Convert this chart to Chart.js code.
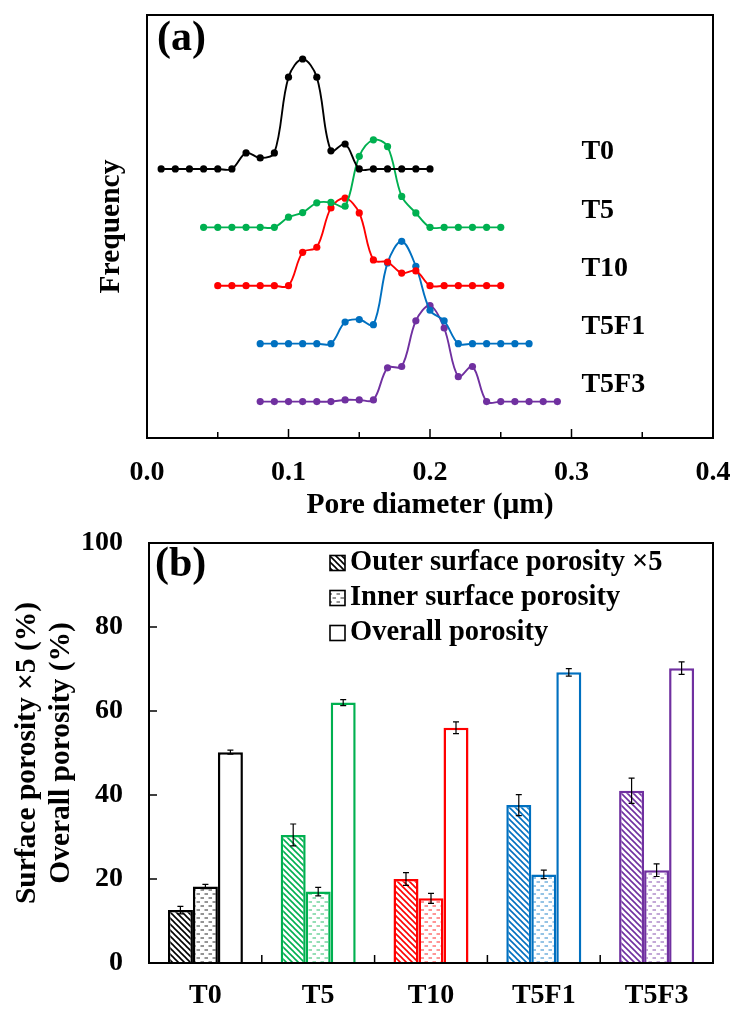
<!DOCTYPE html>
<html lang="en">
<head>
<meta charset="UTF-8">
<title>Pore size distribution and porosity</title>
<script src="https://cdn.jsdelivr.net/npm/chart.js"></script>
<style>
  body { margin: 0; background: #fff; }
  canvas { display: block; }
</style>
</head>
<body>
<canvas id="poreChart" width="734" height="520"></canvas>
<canvas id="porosityChart" width="734" height="490"></canvas>
<script>
// ---- (a) pore size distribution, each curve lifted onto its own baseline ----
const samples = ['T0', 'T5', 'T10', 'T5F1', 'T5F3'];
const sampleColors = ['#000000', '#00B050', '#FF0000', '#0070C0', '#7030A0'];

const diaT0 = [0.01, 0.02, 0.03, 0.04, 0.05, 0.06, 0.07, 0.08, 0.09, 0.10, 0.11, 0.12, 0.13, 0.14, 0.15, 0.16, 0.17, 0.18, 0.19, 0.20];
const freqT0 = [0, 0, 0, 0, 0, 0, 3.8, 2.6, 3.8, 21.7, 26.0, 21.7, 4.3, 5.9, 0, 0, 0, 0, 0, 0];

const diaT5 = [0.04, 0.05, 0.06, 0.07, 0.08, 0.09, 0.10, 0.11, 0.12, 0.13, 0.14, 0.15, 0.16, 0.17, 0.18, 0.19, 0.20, 0.21, 0.22, 0.23, 0.24, 0.25];
const freqT5 = [0, 0, 0, 0, 0, 0, 2.4, 3.5, 5.8, 5.9, 5.0, 16.8, 20.7, 19.1, 7.3, 3.4, 0, 0, 0, 0, 0, 0];

const diaT10 = [0.05, 0.06, 0.07, 0.08, 0.09, 0.10, 0.11, 0.12, 0.13, 0.14, 0.15, 0.16, 0.17, 0.18, 0.19, 0.20, 0.21, 0.22, 0.23, 0.24, 0.25];
const freqT10 = [0, 0, 0, 0, 0, 0, 7.9, 9.1, 18.4, 20.7, 17.2, 6.1, 5.6, 3.0, 3.5, 0, 0, 0, 0, 0, 0];

const diaT5F1 = [0.08, 0.09, 0.10, 0.11, 0.12, 0.13, 0.14, 0.15, 0.16, 0.17, 0.18, 0.19, 0.20, 0.21, 0.22, 0.23, 0.24, 0.25, 0.26, 0.27];
const freqT5F1 = [0, 0, 0, 0, 0, 0, 5.1, 5.7, 4.5, 19.1, 24.2, 18.3, 7.9, 5.4, 0, 0, 0, 0, 0, 0];

const diaT5F3 = [0.08, 0.09, 0.10, 0.11, 0.12, 0.13, 0.14, 0.15, 0.16, 0.17, 0.18, 0.19, 0.20, 0.21, 0.22, 0.23, 0.24, 0.25, 0.26, 0.27, 0.28, 0.29];
const freqT5F3 = [0, 0, 0, 0, 0, 0, 0.4, 0.4, 0.4, 8.0, 8.3, 19.1, 22.7, 17.4, 5.9, 8.3, 0, 0, 0, 0, 0, 0];

const baselines = [63.6, 49.8, 36.0, 22.3, 8.6];
const diaTicks = [0.0, 0.05, 0.1, 0.15, 0.2, 0.25, 0.3, 0.35, 0.4];

// ---- (b) porosity by sample ----
const outerPorosity = [12.6, 30.5, 20.0, 37.6, 41.0];   // already multiplied by 5
const outerErr = [0.9, 2.6, 1.5, 2.5, 3.0];
const innerPorosity = [18.2, 17.0, 15.4, 21.1, 22.1];
const innerErr = [0.5, 1.0, 1.2, 1.0, 1.5];
const overallPorosity = [50.2, 62.0, 56.0, 69.2, 70.2];
const overallErr = [0.5, 0.7, 1.4, 0.9, 1.5];

const serif = "'Liberation Serif', 'Times New Roman', serif";
Chart.defaults.font.family = serif;
Chart.defaults.font.size = 28;
Chart.defaults.font.weight = 'bold';
Chart.defaults.color = '#000';

// box round the plot area
const frame = {
  id: 'frame',
  afterDraw(chart) {
    const { ctx, chartArea: a } = chart;
    ctx.save();
    ctx.strokeStyle = '#000';
    ctx.lineWidth = 2;
    ctx.strokeRect(a.left, a.top, a.right - a.left, a.bottom - a.top);
    ctx.restore();
  }
};

// "(a)" / "(b)"
const panelTag = {
  id: 'panelTag',
  afterDraw(chart, args, opts) {
    const { ctx } = chart;
    ctx.save();
    ctx.font = 'bold 42px ' + serif;
    ctx.fillStyle = '#000';
    ctx.textAlign = 'left';
    ctx.textBaseline = 'middle';
    ctx.fillText(opts.text, opts.x, opts.y);
    ctx.restore();
  }
};

// tick marks pointing into the plot
const diaTickMarks = {
  id: 'diaTickMarks',
  afterDraw(chart) {
    const { ctx, chartArea: a, scales: { x } } = chart;
    ctx.save();
    ctx.strokeStyle = '#000';
    ctx.lineWidth = 1.5;
    x.ticks.forEach((t, i) => {
      const px = x.getPixelForTick(i);
      const len = t.label ? 9 : 6;
      ctx.beginPath();
      ctx.moveTo(px, a.bottom);
      ctx.lineTo(px, a.bottom - len);
      ctx.stroke();
    });
    ctx.restore();
  }
};

// sample names at the right end of each curve
const curveNames = {
  id: 'curveNames',
  afterDraw(chart, args, opts) {
    const { ctx, scales: { x, y } } = chart;
    ctx.save();
    ctx.font = 'bold 28px ' + serif;
    ctx.fillStyle = '#000';
    ctx.textAlign = 'left';
    ctx.textBaseline = 'middle';
    chart.data.datasets.forEach((ds, i) => {
      ctx.fillText(ds.label, x.getPixelForValue(opts.at), y.getPixelForValue(baselines[i] + opts.lift));
    });
    ctx.restore();
  }
};

const curves = [
  [diaT0, freqT0], [diaT5, freqT5], [diaT10, freqT10], [diaT5F1, freqT5F1], [diaT5F3, freqT5F3]
];

new Chart(document.getElementById('poreChart'), {
  type: 'line',
  data: {
    datasets: curves.map(([dia, freq], i) => ({
      label: samples[i],
      data: dia.map((d, k) => ({ x: d, y: freq[k] + baselines[i] })),
      borderColor: sampleColors[i],
      backgroundColor: sampleColors[i],
      pointBackgroundColor: sampleColors[i],
      borderWidth: 1.9,
      pointRadius: 3.6,
      pointBorderWidth: 0,
      tension: 0.35,
      fill: false
    }))
  },
  options: {
    responsive: false,
    animation: false,
    layout: { padding: { top: 15, right: 21, left: 0, bottom: 0 } },
    plugins: {
      legend: { display: false },
      tooltip: { enabled: false },
      panelTag: { text: '(a)', x: 157, y: 39 },
      curveNames: { at: 0.307, lift: 4 }
    },
    scales: {
      x: {
        type: 'linear',
        min: 0,
        max: 0.4,
        afterBuildTicks: (scale) => { scale.ticks = diaTicks.map(v => ({ value: v })); },
        // fixed height, and let the "0.4" label hang past the plot edge
        afterFit: (scale) => { scale.height = 82; scale.paddingRight = 0; scale.paddingLeft = 0; },
        grid: { display: false },
        border: { color: '#000', width: 2 },
        ticks: {
          autoSkip: false,
          maxRotation: 0,
          padding: 10,
          callback: (v) => (Math.round(v * 100) % 10 === 0 ? v.toFixed(1) : '')
        },
        title: {
          display: true,
          text: 'Pore diameter (μm)',
          font: { size: 29.5, weight: 'bold', lineHeight: 1.0 },
          padding: { top: 0, bottom: 0 }
        }
      },
      y: {
        min: 0,
        max: 100,
        afterFit: (scale) => { scale.width = 147; scale.paddingTop = 0; scale.paddingBottom = 0; },
        grid: { display: false },
        border: { color: '#000', width: 2 },
        ticks: { display: false },
        title: {
          display: true,
          text: 'Frequency',
          font: { size: 29.5, weight: 'bold' },
          padding: { top: 94, bottom: 0 }
        }
      }
    }
  },
  plugins: [frame, panelTag, diaTickMarks, curveNames]
});

// ---- (b) bars ----
const barCanvas = document.getElementById('porosityChart');
const barCtx = barCanvas.getContext('2d');

function hatch(color) {
  const s = 6;
  const c = document.createElement('canvas');
  c.width = s; c.height = s;
  const g = c.getContext('2d');
  g.fillStyle = '#fff';
  g.fillRect(0, 0, s, s);
  g.strokeStyle = color;
  g.lineWidth = 1.6;
  for (const k of [-s, 0, s]) {
    g.beginPath();
    g.moveTo(k - 1, -1);
    g.lineTo(k + s + 1, s + 1);
    g.stroke();
  }
  return barCtx.createPattern(c, 'repeat');
}

function dashes(color) {
  const w = 8, h = 8;
  const c = document.createElement('canvas');
  c.width = w; c.height = h;
  const g = c.getContext('2d');
  g.fillStyle = '#fff';
  g.fillRect(0, 0, w, h);
  g.strokeStyle = color;
  g.globalAlpha = 0.7;
  g.lineWidth = 1.2;
  g.beginPath(); g.moveTo(0.5, 2); g.lineTo(4, 2); g.stroke();
  g.beginPath(); g.moveTo(4.5, 6); g.lineTo(8, 6); g.stroke();
  return barCtx.createPattern(c, 'repeat');
}

const errorBars = {
  id: 'errorBars',
  afterDatasetsDraw(chart) {
    const { ctx, scales: { y } } = chart;
    ctx.save();
    ctx.strokeStyle = '#000';
    ctx.lineWidth = 1.2;
    chart.data.datasets.forEach((ds, i) => {
      chart.getDatasetMeta(i).data.forEach((bar, j) => {
        const v = ds.data[j], e = ds.errors[j];
        const top = y.getPixelForValue(v + e), bot = y.getPixelForValue(v - e);
        ctx.beginPath();
        ctx.moveTo(bar.x, top); ctx.lineTo(bar.x, bot);
        ctx.moveTo(bar.x - 3, top); ctx.lineTo(bar.x + 3, top);
        ctx.moveTo(bar.x - 3, bot); ctx.lineTo(bar.x + 3, bot);
        ctx.stroke();
      });
    });
    ctx.restore();
  }
};

const barTickMarks = {
  id: 'barTickMarks',
  afterDraw(chart) {
    const { ctx, chartArea: a, scales: { x, y } } = chart;
    ctx.save();
    ctx.strokeStyle = '#000';
    ctx.lineWidth = 1.5;
    y.ticks.forEach((t, i) => {
      const py = y.getPixelForTick(i);
      ctx.beginPath(); ctx.moveTo(a.left, py); ctx.lineTo(a.left + 8, py); ctx.stroke();
    });
    for (let i = 0; i < x.ticks.length - 1; i++) {
      const px = (x.getPixelForTick(i) + x.getPixelForTick(i + 1)) / 2;
      ctx.beginPath(); ctx.moveTo(px, a.bottom); ctx.lineTo(px, a.bottom - 8); ctx.stroke();
    }
    ctx.restore();
  }
};

const keyBox = {
  id: 'keyBox',
  afterDraw(chart, args, opts) {
    const { ctx } = chart;
    ctx.save();
    ctx.font = 'bold 28.5px ' + serif;
    ctx.textAlign = 'left';
    ctx.textBaseline = 'middle';
    chart.data.datasets.forEach((ds, i) => {
      const cy = opts.top + i * opts.step;
      ctx.fillStyle = ds.keyFill;
      ctx.fillRect(opts.x, cy - 7.5, 15, 15);
      ctx.strokeStyle = '#000';
      ctx.lineWidth = 1.6;
      ctx.strokeRect(opts.x, cy - 7.5, 15, 15);
      ctx.fillStyle = '#000';
      ctx.fillText(ds.label, opts.x + 20, cy);
    });
    ctx.restore();
  }
};

new Chart(barCanvas, {
  type: 'bar',
  data: {
    labels: samples,
    datasets: [
      {
        label: 'Outer surface porosity ×5',
        data: outerPorosity,
        errors: outerErr,
        backgroundColor: sampleColors.map(hatch),
        borderColor: sampleColors,
        keyFill: hatch('#000')
      },
      {
        label: 'Inner surface porosity',
        data: innerPorosity,
        errors: innerErr,
        backgroundColor: sampleColors.map(dashes),
        borderColor: sampleColors,
        keyFill: dashes('#000')
      },
      {
        label: 'Overall porosity',
        data: overallPorosity,
        errors: overallErr,
        backgroundColor: '#fff',
        borderColor: sampleColors,
        keyFill: '#fff'
      }
    ]
  },
  options: {
    responsive: false,
    animation: false,
    datasets: { bar: { borderWidth: 2.5, categoryPercentage: 0.665, barPercentage: 1 } },
    layout: { padding: { top: 23, right: 21, left: 0, bottom: 0 } },
    plugins: {
      legend: { display: false },
      tooltip: { enabled: false },
      panelTag: { text: '(b)', x: 155, y: 45 },
      keyBox: { x: 330, top: 43, step: 35 }
    },
    scales: {
      x: {
        afterFit: (scale) => { scale.height = 47; scale.paddingLeft = 0; scale.paddingRight = 0; },
        grid: { display: false },
        border: { color: '#000', width: 2 },
        ticks: { padding: 8 }
      },
      y: {
        min: 0,
        max: 100,
        // fixed width, and let the "100" label hang above the plot
        afterFit: (scale) => { scale.width = 149; scale.paddingTop = 0; scale.paddingBottom = 0; },
        grid: { display: false },
        border: { color: '#000', width: 2 },
        ticks: { stepSize: 20, padding: 18 },
        title: {
          display: true,
          text: ['Surface porosity ×5 (%)', 'Overall porosity (%)'],
          font: { size: 29.5, weight: 'bold', lineHeight: 1.17 },
          padding: { top: 10, bottom: 0 }
        }
      }
    }
  },
  plugins: [errorBars, frame, panelTag, barTickMarks, keyBox]
});
</script>
</body>
</html>
